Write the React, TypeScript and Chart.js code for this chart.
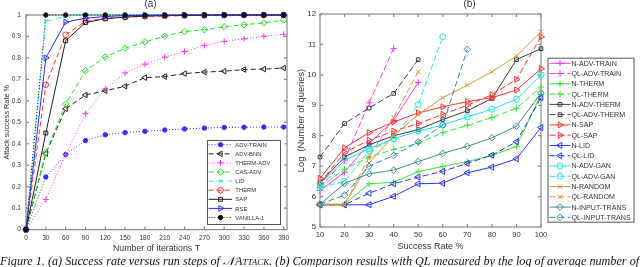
import React, { useEffect, useRef } from 'react';
import { Chart, registerables } from 'chart.js';
import { drawPoint } from 'chart.js/helpers';

Chart.register(...registerables);

const FONT = '"Liberation Sans", Arial, Helvetica, sans-serif';
const TEXT = '#333333';
const AXIS = '#8a8a8a';

// ---------- panel (a) data ----------
const iterations = [0, 30, 60, 90, 120, 150, 180, 210, 240, 270, 300, 330, 360, 390];
const iterTicks = [0, 30, 60, 90, 120, 150, 180, 210, 240, 270, 300, 330, 360, 390];
const rateTicksA = [0, 0.1, 0.2, 0.3, 0.4, 0.5, 0.6, 0.7, 0.8, 0.9, 1];
const labelsA = ['ADV-TRAIN', 'ADV-BNN', 'THERM-ADV', 'CAS-ADV', 'LID', 'THERM', 'SAP', 'RSE', 'VANILLA-1'];
const advTrain = [0, 0.245, 0.35, 0.415, 0.442, 0.452, 0.458, 0.464, 0.469, 0.473, 0.476, 0.477, 0.478, 0.478];
const advBnn = [0, 0.355, 0.563, 0.627, 0.647, 0.668, 0.708, 0.713, 0.727, 0.734, 0.738, 0.746, 0.748, 0.753];
const thermAdv = [0, 0.14, 0.35, 0.54, 0.656, 0.73, 0.771, 0.803, 0.83, 0.858, 0.877, 0.889, 0.901, 0.91];
const casAdv = [0, 0.36, 0.585, 0.74, 0.804, 0.845, 0.875, 0.901, 0.923, 0.931, 0.945, 0.955, 0.963, 0.976];
const lidA = [0, 0.97, 0.995, 0.999, 1, 1, 1, 1, 1, 1, 1, 1, 1, 1];
const thermA = [0, 0.675, 0.908, 0.97, 0.985, 0.99, 0.993, 0.995, 0.997, 0.998, 0.999, 1, 1, 1];
const sapA = [0, 0.45, 0.88, 0.965, 0.983, 0.99, 0.995, 0.997, 0.998, 0.999, 1, 1, 1, 1];
const rseA = [0, 0.8, 0.967, 0.985, 0.993, 0.997, 0.998, 0.999, 1, 1, 1, 1, 1, 1];
const vanillaA = [0, 1, 1, 1, 1, 1, 1, 1, 1, 1, 1, 1, 1, 1];

// ---------- panel (b) data ----------
const successRates = [10, 20, 30, 40, 50, 60, 70, 80, 90, 100];
const rateTicksB = [10, 20, 30, 40, 50, 60, 70, 80, 90, 100];
const logTicksB = [5, 6, 7, 8, 9, 10, 11, 12];
const labelsB = [
  'N-ADV-TRAIN', 'QL-ADV-TRAIN', 'N-THERM', 'QL-THERM', 'N-ADV-THERM', 'QL-ADV-THERM',
  'N-SAP', 'QL-SAP', 'N-LID', 'QL-LID', 'N-ADV-GAN', 'QL-ADV-GAN',
  'N-RANDOM', 'QL-RANDOM', 'N-INPUT-TRANS', 'QL-INPUT-TRANS',
];
const nAdvTrain = [6.2, 6.8, 7.75, 8.5, 9.75];
const qlAdvTrain = [6.3, 7.2, 9.08, 10.87];
const nTherm = [5.75, 5.75, 6.42, 6.47, 6.82, 6.99, 7.15, 7.35, 7.65, 9.35];
const qlTherm = [6.3, 6.9, 7.3, 7.55, 7.75, 8.1, 8.34, 8.6, 8.9, 9.6];
const nAdvTherm = [6.45, 7.3, 7.7, 8.0, 8.2, 8.53, 8.82, 9.22, 10.5, 10.86];
const qlAdvTherm = [7.3, 8.4, 8.91, 9.39, 10.5];
const nSap = [6.6, 7.6, 8.1, 8.45, 8.75, 8.95, 9.12, 9.25, 9.5, 10.2];
const qlSap = [6.45, 7.45, 7.85, 8.15, 8.4, 8.7, 9.0, 9.35, 9.85, 11.25];
const nLid = [5.73, 5.73, 5.73, 6.01, 6.42, 6.44, 6.78, 6.97, 7.24, 8.27];
const qlLid = [5.73, 5.73, 6.11, 6.42, 6.64, 6.83, 7.09, 7.36, 7.8, 9.25];
const nAdvGan = [6.42, 7.19, 7.57, 7.9, 8.15, 8.35, 8.62, 8.87, 9.2, 10.0];
const qlAdvGan = [6.3, 6.5, 7.5, 7.9, 9.03, 11.25];
const nRandom = [5.73, 5.73, 7.1, 8.0, 8.7, 9.25, 9.66, 10.1, 10.62, 11.42];
const qlRandom = [5.73, 5.73, 7.3, 8.6, 10.1];
const nInputTrans = [5.75, 6.43, 6.75, 6.87, 7.15, 7.42, 7.65, 7.93, 8.31, 9.4];
const qlInputTrans = [5.75, 6.05, 7.0, 7.35, 7.8, 8.35, 10.84];

const pts = (xs: number[], ys: number[]) => ys.map((v, i) => ({ x: xs[i], y: v }));

const SOLID: number[] = [];
const DASH = [5, 3];
const DOT = [1, 2];
const DASHDOT = [5, 2, 1, 2];

function series(label: string, xs: number[], ys: number[], color: string, dash: number[], style: string, radius: number, rotation = 0, filled = false, idx = 0) {
  return {
    label,
    data: pts(xs, ys),
    borderColor: color,
    backgroundColor: color,
    borderWidth: 1,
    borderDash: dash,
    pointStyle: style,
    pointRadius: radius,
    pointRotation: rotation,
    pointBorderWidth: 1,
    pointBorderColor: color,
    pointBackgroundColor: filled ? color : 'rgba(0,0,0,0)',
    tension: 0,
    fill: false,
    clip: false as any,
    order: -idx,
  };
}

const axesBox = {
  id: 'axesBox',
  beforeDatasetsDraw(chart: any, _a: any, o: any) {
    const { ctx, chartArea, scales } = chart;
    const { left, right, top, bottom } = chartArea;
    const L = o.tickLen;
    ctx.save();
    ctx.strokeStyle = AXIS;
    ctx.lineWidth = 1.2;
    ctx.strokeRect(left, top, right - left, bottom - top);
    ctx.beginPath();
    scales.x.ticks.forEach((t: any) => {
      const px = scales.x.getPixelForValue(t.value);
      ctx.moveTo(px, bottom); ctx.lineTo(px, bottom - L);
      ctx.moveTo(px, top); ctx.lineTo(px, top + L);
    });
    scales.y.ticks.forEach((t: any) => {
      const py = scales.y.getPixelForValue(t.value);
      ctx.moveTo(left, py); ctx.lineTo(left + L, py);
      ctx.moveTo(right, py); ctx.lineTo(right - L, py);
    });
    ctx.stroke();
    ctx.restore();
  },
  afterDraw(chart: any, _a: any, o: any) {
    const { ctx, chartArea } = chart;
    ctx.save();
    ctx.fillStyle = TEXT;
    ctx.font = `${o.titleSize}px ${FONT}`;
    ctx.textAlign = 'center';
    ctx.textBaseline = 'middle';
    ctx.fillText(o.title, (chartArea.left + chartArea.right) / 2 + o.titleDx, o.titleY);
    ctx.restore();
  },
};

const legendPanel = {
  id: 'legendPanel',
  afterDraw(chart: any, _a: any, o: any) {
    const { ctx, chartArea } = chart;
    const left = chartArea.right + o.offsetX;
    const top = o.fromBottom ? chartArea.bottom - o.offsetY : chartArea.top + o.offsetY;
    ctx.save();
    ctx.fillStyle = '#ffffff';
    ctx.fillRect(left, top, o.width, o.height);
    ctx.strokeStyle = '#555555';
    ctx.lineWidth = 1;
    ctx.strokeRect(left + 0.5, top + 0.5, o.width, o.height);
    ctx.font = `${o.fontSize}px ${FONT}`;
    ctx.textBaseline = 'middle';
    chart.data.datasets.forEach((ds: any, i: number) => {
      const y = top + o.firstRow + i * o.rowGap;
      ctx.strokeStyle = ds.borderColor;
      ctx.lineWidth = ds.borderWidth;
      ctx.setLineDash(ds.borderDash || []);
      ctx.beginPath();
      ctx.moveTo(left + o.lineStart, y);
      ctx.lineTo(left + o.lineEnd, y);
      ctx.stroke();
      ctx.setLineDash([]);
      ctx.fillStyle = ds.pointBackgroundColor;
      ctx.strokeStyle = ds.borderColor;
      ctx.lineWidth = 1;
      drawPoint(ctx, { pointStyle: ds.pointStyle, rotation: ds.pointRotation || 0, radius: ds.pointRadius, borderWidth: 1 } as any, left + o.marker, y);
      ctx.fillStyle = TEXT;
      ctx.fillText(ds.label, left + o.textStart, y + 0.5);
    });
    ctx.restore();
  },
};

function setTicks(values: number[]) {
  return (scale: any) => {
    scale.ticks = values.map((v) => ({ value: v }));
  };
}

const noGrid = { display: false, drawTicks: false, tickLength: 0 };

function configA(): any {
  const datasets = [
    series(labelsA[0], iterations, advTrain, '#2f2fff', DOT, 'circle', 2.2, 0, true, 0),
    series(labelsA[1], iterations, advBnn, '#222222', DASH, 'triangle', 3.2, -90, false, 1),
    series(labelsA[2], iterations, thermAdv, '#ff30ff', DOT, 'cross', 3, 0, false, 2),
    series(labelsA[3], iterations, casAdv, '#22e022', DASH, 'rectRot', 3.2, 0, false, 3),
    series(labelsA[4], iterations, lidA, '#20e8e8', DASHDOT, 'crossRot', 2.8, 0, false, 4),
    series(labelsA[5], iterations, thermA, '#ff3030', DASH, 'circle', 2.8, 0, false, 5),
    series(labelsA[6], iterations, sapA, '#222222', SOLID, 'rect', 2.8, 0, false, 6),
    series(labelsA[7], iterations, rseA, '#2a2aff', SOLID, 'triangle', 3.4, 90, false, 7),
    series(labelsA[8], iterations, vanillaA, '#111111', DOT, 'circle', 2.2, 0, true, 8),
  ];
  return {
    type: 'line',
    data: { datasets },
    options: {
      animation: false,
      responsive: false,
      events: [],
      layout: { padding: { left: 0, right: 13, top: 15, bottom: 13 } },
      plugins: {
        legend: { display: false },
        tooltip: { enabled: false },
        axesBox: { tickLen: 3, title: '(a)', titleDx: -6, titleY: 4.5, titleSize: 10 },
        legendPanel: {
          offsetX: -80, offsetY: 89.6, fromBottom: true, width: 73, height: 84,
          firstRow: 4.7, rowGap: 9.1, lineStart: 1.5, lineEnd: 25, marker: 13.5, textStart: 28.3, fontSize: 5.9,
        },
      },
      scales: {
        x: {
          type: 'linear', min: 0, max: 395,
          afterBuildTicks: setTicks(iterTicks),
          afterFit: (s: any) => { s.height = 24.4; },
          grid: noGrid, border: { display: false },
          ticks: { font: { size: 6.6, family: FONT }, color: TEXT, padding: 5, maxRotation: 0, autoSkip: false },
          title: { display: true, text: 'Number of iterations T', color: TEXT, font: { size: 8.8, family: FONT }, padding: { top: 0, bottom: 0 } },
        },
        y: {
          type: 'linear', min: 0, max: 1,
          afterBuildTicks: setTicks(rateTicksA),
          afterFit: (s: any) => { s.width = 26; },
          grid: noGrid, border: { display: false },
          ticks: { font: { size: 6.6, family: FONT }, color: TEXT, padding: 5, autoSkip: false, callback: (v: any) => String(Math.round(v * 10) / 10) },
          title: { display: true, text: 'Attack success Rate %', color: TEXT, font: { size: 7.3, family: FONT }, padding: { top: 2.3, bottom: 0 } },
        },
      },
    },
    plugins: [axesBox, legendPanel],
  };
}

function configB(): any {
  const x = successRates;
  const MAG = '#ff30ff', GRN = '#30e830', GRY = '#3a3a3a', RED = '#ff3030', BLU = '#3030ff', CYN = '#20e6e6', ORG = '#dc9430', TEAL = '#3a8c8c', STEEL = '#2f86b8';
  const datasets = [
    series(labelsB[0], x, nAdvTrain, MAG, SOLID, 'cross', 3.2, 0, false, 0),
    series(labelsB[1], x, qlAdvTrain, MAG, [6, 3], 'cross', 3.2, 0, false, 1),
    series(labelsB[2], x, nTherm, GRN, SOLID, 'cross', 3.2, 0, false, 2),
    series(labelsB[3], x, qlTherm, GRN, [6, 3], 'cross', 3.2, 0, false, 3),
    series(labelsB[4], x, nAdvTherm, GRY, SOLID, 'rect', 2.6, 0, false, 4),
    series(labelsB[5], x, qlAdvTherm, GRY, [6, 3], 'rect', 2.6, 0, false, 5),
    series(labelsB[6], x, nSap, RED, SOLID, 'triangle', 3.5, 90, false, 6),
    series(labelsB[7], x, qlSap, RED, [6, 3], 'triangle', 3.5, 90, false, 7),
    series(labelsB[8], x, nLid, BLU, SOLID, 'triangle', 3.5, -90, false, 8),
    series(labelsB[9], x, qlLid, BLU, [6, 3], 'triangle', 3.5, -90, false, 9),
    series(labelsB[10], x, nAdvGan, CYN, SOLID, 'circle', 3, 0, false, 10),
    series(labelsB[11], x, qlAdvGan, CYN, [6, 3], 'circle', 3, 0, false, 11),
    series(labelsB[12], x, nRandom, ORG, SOLID, 'crossRot', 3, 0, false, 12),
    series(labelsB[13], x, qlRandom, ORG, [6, 3], 'crossRot', 3, 0, false, 13),
    series(labelsB[14], x, nInputTrans, TEAL, SOLID, 'rectRot', 3.3, 0, false, 14),
    series(labelsB[15], x, qlInputTrans, STEEL, [6, 3], 'rectRot', 3.3, 0, false, 15),
  ];
  return {
    type: 'line',
    data: { datasets },
    options: {
      animation: false,
      responsive: false,
      events: [],
      layout: { padding: { left: 0, right: 99, top: 14, bottom: 15 } },
      plugins: {
        legend: { display: false },
        tooltip: { enabled: false },
        axesBox: { tickLen: 3, title: '(b)', titleDx: 39, titleY: 4.5, titleSize: 10 },
        legendPanel: {
          offsetX: 6.5, offsetY: 43.7, fromBottom: false, width: 86, height: 164,
          firstRow: 5.6, rowGap: 10.27, lineStart: 2, lineEnd: 23, marker: 12.5, textStart: 24, fontSize: 7.1,
        },
      },
      scales: {
        x: {
          type: 'linear', min: 10, max: 100,
          afterBuildTicks: setTicks(rateTicksB),
          afterFit: (s: any) => { s.height = 25; },
          grid: noGrid, border: { display: false },
          ticks: { font: { size: 7.6, family: FONT }, color: TEXT, padding: 3.5, maxRotation: 0, autoSkip: false },
          title: { display: true, text: 'Success Rate %', color: TEXT, font: { size: 9, family: FONT }, padding: { top: 0, bottom: 0 } },
        },
        y: {
          type: 'linear', min: 5, max: 12,
          afterBuildTicks: setTicks(logTicksB),
          afterFit: (s: any) => { s.width = 28; },
          grid: noGrid, border: { display: false },
          ticks: { font: { size: 7.8, family: FONT }, color: TEXT, padding: 4, autoSkip: false },
          title: { display: true, text: 'Log  (Number of queries)', color: TEXT, font: { size: 9.3, family: FONT }, padding: { top: 3.4, bottom: 0 } },
        },
      },
    },
    plugins: [axesBox, legendPanel],
  };
}

export default function App() {
  const refA = useRef<HTMLCanvasElement>(null);
  const refB = useRef<HTMLCanvasElement>(null);
  useEffect(() => {
    const a = new Chart(refA.current as HTMLCanvasElement, configA());
    const b = new Chart(refB.current as HTMLCanvasElement, configB());
    return () => { a.destroy(); b.destroy(); };
  }, []);
  return (
    <div style={{ position: 'fixed', left: 0, top: 0, width: 640, height: 267, background: '#ffffff', overflow: 'hidden' }}>
      <canvas ref={refA} width={300} height={267} style={{ position: 'absolute', left: 0, top: 0, width: 300, height: 267, display: 'block' }} />
      <canvas ref={refB} width={348} height={267} style={{ position: 'absolute', left: 292, top: 0, width: 348, height: 267, display: 'block' }} />
      <div style={{ position: 'absolute', left: 0, top: 255, whiteSpace: 'nowrap', fontFamily: '"Liberation Serif", "Times New Roman", serif', fontStyle: 'italic', fontSize: 12.2, lineHeight: '12px', color: '#111' }}>
        Figure 1. (a) Success rate versus run steps of 𝒩<span style={{ fontVariant: 'small-caps' }}>Attack</span>. (b) Comparison results with QL measured by the log of average number of
      </div>
    </div>
  );
}
